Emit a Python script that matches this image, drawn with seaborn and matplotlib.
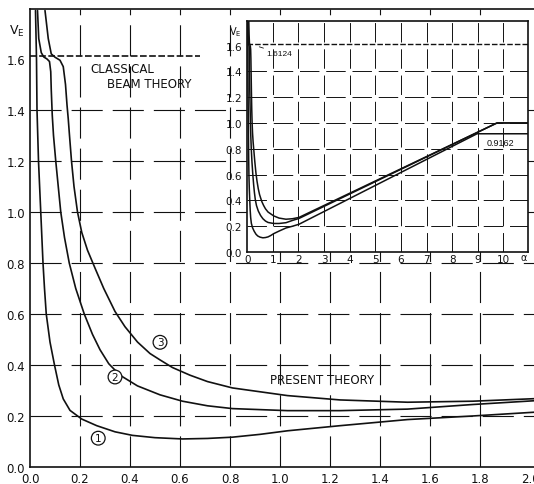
import matplotlib
matplotlib.use("Agg")
import matplotlib.pyplot as plt
import seaborn as sns
import pandas as pd

# ---------------- data ----------------
c1_x = [0.022, 0.026, 0.028, 0.034, 0.043, 0.052, 0.058, 0.065, 0.08, 0.098, 0.115,
        0.133, 0.16, 0.207, 0.267, 0.34, 0.41, 0.5, 0.61, 0.71, 0.81, 0.92, 1.03,
        1.24, 1.51, 1.77, 2.02]
c1_y = [1.79, 1.6, 1.4, 1.2, 1.0, 0.8, 0.7, 0.6, 0.49, 0.4, 0.322,
        0.267, 0.222, 0.188, 0.162, 0.138, 0.124, 0.115, 0.11, 0.112, 0.117, 0.128, 0.142,
        0.162, 0.186, 0.2, 0.215]

c2_x = [0.03, 0.035, 0.045, 0.055, 0.068, 0.078, 0.083, 0.085, 0.089, 0.094, 0.103,
        0.123, 0.138, 0.157, 0.183, 0.217, 0.25, 0.28, 0.315, 0.36, 0.43, 0.52, 0.61,
        0.71, 0.81, 1.03, 1.24, 1.51, 1.77, 2.02]
c2_y = [1.79, 1.68, 1.625, 1.608, 1.6, 1.59, 1.55, 1.48, 1.38, 1.3, 1.2,
        1.0, 0.9, 0.8, 0.7, 0.6, 0.52, 0.46, 0.405, 0.36, 0.318, 0.283, 0.258,
        0.24, 0.229, 0.221, 0.221, 0.227, 0.245, 0.26]

c3_x = [0.06, 0.073, 0.085, 0.1, 0.12, 0.133, 0.142, 0.148, 0.153, 0.158, 0.166, 0.176,
        0.19, 0.207, 0.23, 0.26, 0.295, 0.34, 0.38, 0.43, 0.48, 0.52, 0.57, 0.64, 0.71,
        0.81, 1.03, 1.24, 1.51, 1.77, 2.02]
c3_y = [1.79, 1.68, 1.62, 1.607, 1.595, 1.57, 1.5, 1.42, 1.365, 1.3, 1.2, 1.1,
        1.0, 0.92, 0.85, 0.78, 0.7, 0.61, 0.55, 0.49, 0.445, 0.42, 0.39, 0.36, 0.335,
        0.31, 0.28, 0.263, 0.254, 0.258, 0.268]

# inset continuation (linear rise, then plateau)
c1_tail_x = [8.97, 11.0]
c1_tail_y = [0.9162, 0.9162]
c2_tail_x = [9.75, 11.0]
c2_tail_y = [1.0, 1.0]
c3_tail_x = [9.75, 11.0]
c3_tail_y = [1.0, 1.0]

classical_value = 1.6124
classical_x_end = 0.68

main_xticks = [0.0, 0.2, 0.4, 0.6, 0.8, 1.0, 1.2, 1.4, 1.6, 1.8, 2.0]
main_yticks = [0.0, 0.2, 0.4, 0.6, 0.8, 1.0, 1.2, 1.4, 1.6]
inset_xticks = [0, 1, 2, 3, 4, 5, 6, 7, 8, 9, 10]
inset_yticks = [0.0, 0.2, 0.4, 0.6, 0.8, 1.0, 1.2, 1.4, 1.6]

curve_labels = ["1", "2", "3"]
label_x = [0.273, 0.34, 0.52]
label_y = [0.113, 0.353, 0.489]

# ---------------- style ----------------
sns.set_style("white")
plt.rcParams["font.family"] = ["DejaVu Sans"]
plt.rcParams["mathtext.default"] = "regular"
INK = "#111111"
GRID_LS = (0, (28, 9))

fig = plt.figure(figsize=(5.34, 4.85), dpi=100)
ax = fig.add_axes([30 / 534, 17 / 485, 504 / 534, 458 / 485])

curves = [(c1_x, c1_y), (c2_x, c2_y), (c3_x, c3_y)]
for cx, cy in curves:
    df = pd.DataFrame({"x": cx, "y": cy})
    sns.lineplot(data=df, x="x", y="y", sort=False, estimator=None,
                 color=INK, lw=1.2, ax=ax)

ax.set_xlim(0, 2.016)
ax.set_ylim(0, 1.796)
for v in main_xticks[1:-1]:
    ax.axvline(v, color=INK, lw=0.8, linestyle=GRID_LS, zorder=0)
for v in main_yticks[1:-1]:
    ax.axhline(v, color=INK, lw=0.8, linestyle=GRID_LS, zorder=0)
ax.plot([0, classical_x_end], [classical_value, classical_value], color=INK,
        lw=1.2, linestyle=(0, (4, 1.5)))

ax.set_xticks(main_xticks)
ax.set_xticklabels([f"{v:.1f}" for v in main_xticks])
ax.set_yticks(main_yticks)
ax.set_yticklabels([f"{v:.1f}" for v in main_yticks])
ax.tick_params(length=0, pad=3.5, labelsize=8.5, colors=INK)
ax.set_xlabel("")
ax.set_ylabel("")
for s in ["left", "bottom", "top"]:
    ax.spines[s].set_color(INK)
    ax.spines[s].set_linewidth(1.2)
ax.spines["right"].set_visible(False)

ax.text(-0.011, 0.953, "$V_E$", transform=ax.transAxes, ha="right", va="center",
        fontsize=9, color=INK)
ax.text(0.24, 1.561, "CLASSICAL", fontsize=8.5, ha="left", va="center", color=INK)
ax.text(0.308, 1.502, "BEAM THEORY", fontsize=8.5, ha="left", va="center", color=INK)
ax.text(0.96, 0.345, "PRESENT THEORY", fontsize=8.5, ha="left", va="center", color=INK)
for t, lx, ly in zip(curve_labels, label_x, label_y):
    ax.text(lx, ly, t, fontsize=7.5, ha="center", va="center", color=INK,
            bbox=dict(boxstyle="circle,pad=0.18", fc="white", ec=INK, lw=0.9))

# ---------------- inset ----------------
ins = fig.add_axes([247 / 534, (485 - 253) / 485, 281 / 534, 231 / 485])
ins.set_facecolor("white")
inset_curves = [(c1_x + c1_tail_x, c1_y + c1_tail_y),
                (c2_x + c2_tail_x, c2_y + c2_tail_y),
                (c3_x + c3_tail_x, c3_y + c3_tail_y)]
for cx, cy in inset_curves:
    df = pd.DataFrame({"x": cx, "y": cy})
    sns.lineplot(data=df, x="x", y="y", sort=False, estimator=None,
                 color=INK, lw=1.1, ax=ins)
ins.set_xlim(-0.01, 10.96)
ins.set_ylim(0, 1.79)
for v in inset_xticks[1:]:
    ins.axvline(v, color=INK, lw=0.7, linestyle=(0, (20, 7)), zorder=0)
for v in inset_yticks[1:-1]:
    ins.axhline(v, color=INK, lw=0.7, linestyle=(0, (20, 7)), zorder=0)
ins.axhline(classical_value, color=INK, lw=1.0, linestyle=(0, (4, 1.5)))
ins.set_xticks(inset_xticks)
ins.set_xticklabels([str(v) for v in inset_xticks])
ins.set_yticks(inset_yticks)
ins.set_yticklabels([f"{v:.1f}" for v in inset_yticks])
ins.tick_params(length=0, labelsize=7.5, colors=INK)
ins.tick_params(axis="x", pad=1.5)
ins.tick_params(axis="y", pad=3.5)
ins.set_xlabel("")
ins.set_ylabel("")
for s in ins.spines.values():
    s.set_color(INK)
    s.set_linewidth(1.2)
ins.text(-0.04, 0.955, "$V_E$", transform=ins.transAxes, ha="center", va="center",
         fontsize=7, color=INK)
ins.text(10.78, -0.035, "α", transform=ins.transData, ha="center", va="center",
         fontsize=7, color=INK, clip_on=False)
ins.annotate("1.6124", xy=(0.47, 1.59), xytext=(0.76, 1.54), fontsize=6,
             family=["Liberation Sans", "DejaVu Sans"], va="center", ha="left",
             color=INK, arrowprops=dict(arrowstyle="-", color=INK, lw=0.6,
                                        shrinkA=0, shrinkB=0))
ins.text(9.35, 0.851, "0.9162", fontsize=6.5, family=["Liberation Sans", "DejaVu Sans"],
         ha="left", va="center", color=INK)

fig.savefig("out.png", dpi=100)
